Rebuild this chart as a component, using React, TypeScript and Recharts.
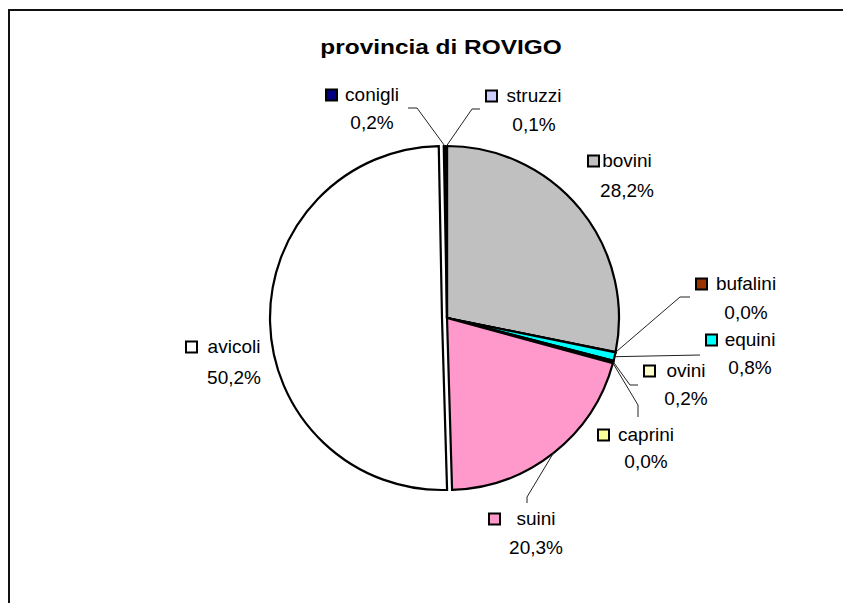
import { PieChart, Pie, Cell } from 'recharts';

const categories = ['bovini', 'bufalini', 'equini', 'ovini', 'caprini', 'suini', 'avicoli', 'conigli', 'struzzi'];
const shares = [28.2, 0.03, 0.8, 0.2, 0.03, 20.3, 50.2, 0.2, 0.1];
const colors = ['#C0C0C0', '#993300', '#00FFFF', '#FFFFCC', '#FFFF99', '#FF99CC', '#FFFFFF', '#000080', '#CCCCFF'];
const explodedSlice = 'avicoli';

const data = categories.map((name, i) => ({ name, value: shares[i] }));

// where Excel put each label, relative to the pie centre (key box x, text centre x, the two line centres, leader bends)
const labelLayout: Record<string, { key: number; tx: number; y1: number; y2: number; leader?: number[][] }> = {
  bovini: { key: 141, tx: 180, y1: -157, y2: -128 },
  bufalini: { key: 249, tx: 299, y1: -34, y2: -6, leader: [[233, -21], [243, -21]] },
  equini: { key: 259, tx: 303, y1: 22, y2: 49, leader: [[253, 37]] },
  ovini: { key: 197, tx: 239, y1: 53, y2: 80, leader: [[183, 67], [191, 67]] },
  caprini: { key: 151, tx: 199, y1: 117, y2: 143, leader: [[191, 87], [191, 99]] },
  suini: { key: 42, tx: 89, y1: 201, y2: 229, leader: [[80, 179], [80, 185]] },
  avicoli: { key: -261, tx: -213, y1: 29, y2: 59 },
  conigli: { key: -121, tx: -75, y1: -223, y2: -196, leader: [[-30, -210], [-39, -210]] },
  struzzi: { key: 39, tx: 87, y1: -222, y2: -194, leader: [[25, -209], [33, -209]] },
};

const FONT = '"Liberation Sans", Arial, sans-serif';
const RAD = Math.PI / 180;

const fmt = (v: number) => v.toFixed(1).replace('.', ',') + '%';

function SliceLabel(props: any) {
  const { cx, cy, midAngle, outerRadius, name, value, index } = props;
  const l = labelLayout[name];
  if (!l) return null;
  let path = '';
  if (l.leader) {
    const sx = cx + outerRadius * Math.cos(-midAngle * RAD);
    const sy = cy + outerRadius * Math.sin(-midAngle * RAD);
    path = `M${sx},${sy}` + l.leader.map(([px, py]) => ` L${cx + px},${cy + py}`).join('');
  }
  return (
    <g>
      {path && <path d={path} stroke="#222" strokeWidth={1} fill="none" />}
      <rect x={cx + l.key} y={cy + l.y1 - 5.5} width={11} height={11} fill={colors[index]} stroke="#000" strokeWidth={2} />
      <text x={cx + l.tx} y={cy + l.y1 + 6} textAnchor="middle" fontFamily={FONT} fontSize={19} fill="#000">
        {name}
      </text>
      <text x={cx + l.tx} y={cy + l.y2 + 7} textAnchor="middle" fontFamily={FONT} fontSize={19} fill="#000">
        {fmt(value)}
      </text>
    </g>
  );
}

export default function App() {
  return (
    <div style={{ position: 'relative', width: 843, height: 595, overflow: 'hidden', background: '#fff' }}>
      <div
        style={{
          position: 'absolute',
          left: 0,
          top: 1,
          width: 900,
          height: 700,
          borderTop: '2px solid #111',
          borderLeft: '2px solid #111',
        }}
      />
      <div
        style={{
          position: 'absolute',
          left: 233,
          top: 26,
          width: 400,
          textAlign: 'center',
          fontFamily: FONT,
          fontWeight: 'bold',
          fontSize: 20,
          lineHeight: '26px',
          transform: 'scaleX(1.22)',
        }}
      >
        provincia di ROVIGO
      </div>
      <div style={{ position: 'absolute', left: 0, top: 0 }}>
        <PieChart width={843} height={595} margin={{ top: 0, right: 0, bottom: 0, left: 0 }}>
          <Pie
            data={data}
            dataKey="value"
            nameKey="name"
            cx={439}
            cy={310}
            outerRadius={172}
            startAngle={90}
            endAngle={-270}
            label={SliceLabel}
            labelLine={false}
            isAnimationActive={false}
          >
            {data.map((d, i) => (
              <Cell
                key={d.name}
                fill={d.name === explodedSlice ? 'none' : colors[i]}
                stroke={d.name === explodedSlice ? 'none' : '#000'}
                strokeWidth={2.2}
              />
            ))}
          </Pie>
          <Pie
            data={data}
            dataKey="value"
            nameKey="name"
            cx={434}
            cy={310}
            outerRadius={172}
            startAngle={90}
            endAngle={-270}
            labelLine={false}
            isAnimationActive={false}
          >
            {data.map((d, i) => (
              <Cell
                key={d.name}
                fill={d.name === explodedSlice ? colors[i] : 'none'}
                stroke={d.name === explodedSlice ? '#000' : 'none'}
                strokeWidth={2.2}
              />
            ))}
          </Pie>
        </PieChart>
      </div>
    </div>
  );
}
